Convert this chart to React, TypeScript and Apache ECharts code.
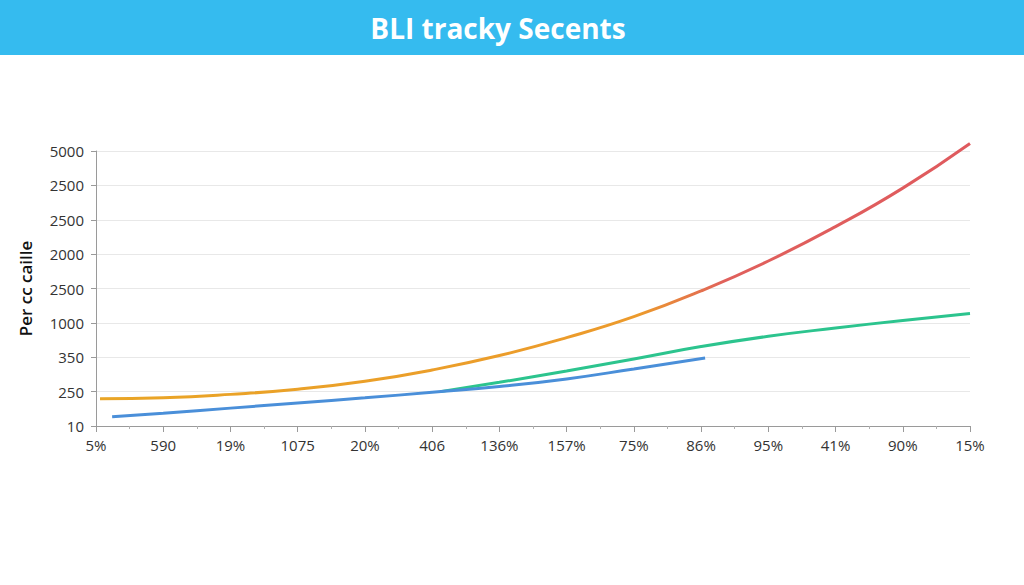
import React, { useEffect, useRef } from "react";
import * as echarts from "echarts";

const titleText = "BLI tracky Secents";
const yAxisName = "Per cc caille";
const xTickLabels = ["5%", "590", "19%", "1075", "20%", "406", "136%", "157%", "75%", "86%", "95%", "41%", "90%", "15%"];
const yTickLabels = ["10", "250", "350", "1000", "2500", "2000", "2500", "2500", "5000"];

// [x position in category units, y position in tick units]
const orangeRed: [number, number][] = [
  [0.06, 0.79], [1, 0.82], [2, 0.92], [3, 1.07], [4, 1.3], [5, 1.63], [6, 2.05],
  [7, 2.57], [8, 3.18], [9, 3.93], [10, 4.8], [11, 5.8], [12, 6.92], [13, 8.22],
];
const blue: [number, number][] = [
  [0.24, 0.27], [1, 0.37], [2, 0.52], [3, 0.67], [4, 0.82], [5, 0.98], [6, 1.15],
  [7, 1.37], [8, 1.66], [9.06, 1.98],
];
const green: [number, number][] = [
  [5.12, 1.0], [6, 1.27], [7, 1.6], [8, 1.95], [9, 2.31], [10, 2.61], [11, 2.85], [12, 3.07], [13, 3.27],
];

const FONT = "'Open Sans', 'Noto Sans', sans-serif";

export default function App() {
  const ref = useRef<HTMLDivElement>(null);
  useEffect(() => {
    document.body.style.margin = "0";
    if (!ref.current) return;
    const chart = echarts.init(ref.current, undefined, { renderer: "svg" });
    chart.setOption({
      animation: false,
      backgroundColor: "#ffffff",
      graphic: [
        { type: "rect", left: 0, top: 0, shape: { width: 1024, height: 55 }, style: { fill: "#35BBEF" }, z: 0 },
        {
          type: "text", x: 498, y: 28, z: 1,
          style: { text: titleText, fill: "#ffffff", font: `bold 28px ${FONT}`, textAlign: "center", textVerticalAlign: "middle" },
        },
      ],
      grid: { left: 96, right: 54, top: 151, bottom: 159, containLabel: false },
      xAxis: {
        type: "value", min: 0, max: 13, interval: 1,
        axisLine: { show: true, lineStyle: { color: "#9a9a9a", width: 1 } },
        axisTick: { show: true, length: 6, lineStyle: { color: "#9a9a9a" } },
        minorTick: { show: true, splitNumber: 2, length: 3, lineStyle: { color: "#b0b0b0" } },
        splitLine: { show: false },
        axisLabel: {
          color: "#333", fontSize: 15, fontFamily: FONT, margin: 11,
          formatter: (v: number) => xTickLabels[Math.round(v)] ?? "",
        },
      },
      yAxis: {
        type: "value", min: 0, max: 8, interval: 1,
        name: yAxisName, nameLocation: "middle", nameRotate: 90, nameGap: 62,
        nameTextStyle: { color: "#111", fontSize: 17, fontFamily: FONT, fontWeight: 600 },
        axisLine: { show: true, lineStyle: { color: "#9a9a9a", width: 1 } },
        axisTick: { show: true, length: 5, lineStyle: { color: "#9a9a9a" } },
        splitLine: { show: true, lineStyle: { color: "#e8e8e8", width: 1 } },
        axisLabel: {
          color: "#333", fontSize: 15, fontFamily: FONT, margin: 12,
          formatter: (v: number) => yTickLabels[Math.round(v)] ?? "",
        },
      },
      series: [
        {
          type: "line", data: blue, smooth: true, symbol: "none", clip: false, z: 3,
          lineStyle: { color: "#4A8FD9", width: 3 },
        },
        {
          type: "line", data: green, smooth: true, symbol: "none", clip: false, z: 2,
          lineStyle: { color: "#2CC48E", width: 3 },
        },
        {
          type: "line", data: orangeRed, smooth: true, symbol: "none", clip: false, z: 4,
          lineStyle: {
            width: 3,
            color: new echarts.graphic.LinearGradient(0, 0, 1, 0, [
              { offset: 0, color: "#E9A526" },
              { offset: 0.62, color: "#EC9A2C" },
              { offset: 0.72, color: "#E0605C" },
              { offset: 1, color: "#DF5A5E" },
            ]),
          },
        },
      ],
    });
    return () => chart.dispose();
  }, []);
  return <div ref={ref} style={{ width: 1024, height: 585 }} />;
}
